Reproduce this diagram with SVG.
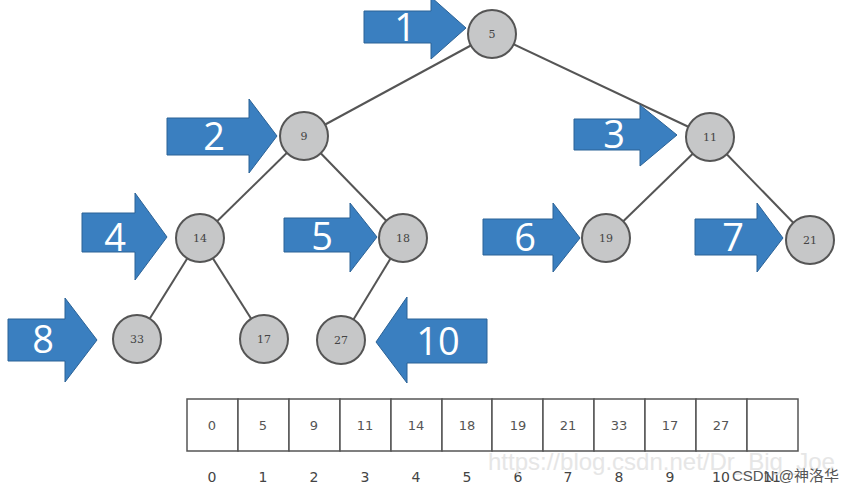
<svg xmlns="http://www.w3.org/2000/svg" width="847" height="492" viewBox="0 0 847 492">
<style>
.edge{stroke:#555;stroke-width:2;fill:none}
.node circle{fill:#c6c7c8;stroke:#555;stroke-width:2}
.node text{font-family:"DejaVu Serif",serif;font-size:11px;fill:#444;text-anchor:middle}
.arrow polygon{fill:#3a7fc0;stroke:#2b6296;stroke-width:1}
.arrow text{font-family:"Open Sans","Noto Sans",sans-serif;font-size:38px;fill:#fff;text-anchor:middle}
.cell{fill:#fff;stroke:#555;stroke-width:1.5}
.val{font-family:"DejaVu Sans",sans-serif;font-size:13px;fill:#555;text-anchor:middle}
.idx{font-family:"DejaVu Sans",sans-serif;font-size:14px;fill:#444;text-anchor:middle}
</style>
<rect width="847" height="492" fill="#fff"/>
<g id="connectors">
<line class="edge" x1="492" y1="34" x2="304" y2="136"/>
<line class="edge" x1="492" y1="34" x2="710" y2="137"/>
<line class="edge" x1="304" y1="136" x2="200" y2="238"/>
<line class="edge" x1="304" y1="136" x2="403" y2="238"/>
<line class="edge" x1="710" y1="137" x2="606" y2="238"/>
<line class="edge" x1="710" y1="137" x2="810" y2="240"/>
<line class="edge" x1="200" y1="238" x2="137" y2="339"/>
<line class="edge" x1="200" y1="238" x2="264" y2="339"/>
<line class="edge" x1="403" y1="238" x2="341" y2="340"/>
</g>
<g id="n5" class="node"><circle cx="492" cy="34" r="24"/><text x="492" y="38">5</text></g>
<g id="n9" class="node"><circle cx="304" cy="136" r="24"/><text x="304" y="140">9</text></g>
<g id="n11" class="node"><circle cx="710" cy="137" r="24"/><text x="710" y="141">11</text></g>
<g id="n14" class="node"><circle cx="200" cy="238" r="24"/><text x="200" y="242">14</text></g>
<g id="n18" class="node"><circle cx="403" cy="238" r="24"/><text x="403" y="242">18</text></g>
<g id="n19" class="node"><circle cx="606" cy="238" r="24"/><text x="606" y="242">19</text></g>
<g id="n21" class="node"><circle cx="810" cy="240" r="24"/><text x="810" y="244">21</text></g>
<g id="n33" class="node"><circle cx="137" cy="339" r="24"/><text x="137" y="343">33</text></g>
<g id="n17" class="node"><circle cx="264" cy="339" r="24"/><text x="264" y="343">17</text></g>
<g id="n27" class="node"><circle cx="341" cy="340" r="24"/><text x="341" y="344">27</text></g>

<g id="a1" class="arrow"><polygon points="364,11 431,11 431,-3 466,28 431,59 431,43 364,43"/><text x="405" y="41">1</text></g>
<g id="a2" class="arrow"><polygon points="167,118 249,118 249,99 277,136 249,173 249,155 167,155"/><text x="214" y="150">2</text></g>
<g id="a3" class="arrow"><polygon points="574,119 640,119 640,105 677,135 640,166 640,150 574,150"/><text x="614" y="148">3</text></g>
<g id="a4" class="arrow"><polygon points="82,213 135,213 135,193 167,237 135,280 135,252 82,252"/><text x="115" y="251">4</text></g>
<g id="a5" class="arrow"><polygon points="284,218 350,218 350,203 377,237 350,272 350,252 284,252"/><text x="322" y="250">5</text></g>
<g id="a6" class="arrow"><polygon points="483,219 553,219 553,203 580,238 553,272 553,255 483,255"/><text x="525" y="251">6</text></g>
<g id="a7" class="arrow"><polygon points="695,219 757,219 757,203 783,238 757,272 757,255 695,255"/><text x="733" y="251">7</text></g>
<g id="a8" class="arrow"><polygon points="8,319 65,319 65,298 97,340 65,382 65,361 8,361"/><text x="43" y="353">8</text></g>
<g id="a10" class="arrow"><polygon points="487,319 407,319 407,297 376,342 407,383 407,363 487,363"/><text x="438" y="355">10</text></g>

<g id="array">
<rect class="cell" x="187" y="399" width="51" height="52"/>
<rect class="cell" x="238" y="399" width="51" height="52"/>
<rect class="cell" x="289" y="399" width="51" height="52"/>
<rect class="cell" x="340" y="399" width="51" height="52"/>
<rect class="cell" x="391" y="399" width="51" height="52"/>
<rect class="cell" x="442" y="399" width="50" height="52"/>
<rect class="cell" x="492" y="399" width="51" height="52"/>
<rect class="cell" x="543" y="399" width="51" height="52"/>
<rect class="cell" x="594" y="399" width="51" height="52"/>
<rect class="cell" x="645" y="399" width="51" height="52"/>
<rect class="cell" x="696" y="399" width="51" height="52"/>
<rect class="cell" x="747" y="399" width="51" height="52"/>
<text class="val" x="212" y="430">0</text>
<text class="val" x="263" y="430">5</text>
<text class="val" x="314" y="430">9</text>
<text class="val" x="365" y="430">11</text>
<text class="val" x="416" y="430">14</text>
<text class="val" x="467" y="430">18</text>
<text class="val" x="518" y="430">19</text>
<text class="val" x="568" y="430">21</text>
<text class="val" x="619" y="430">33</text>
<text class="val" x="670" y="430">17</text>
<text class="val" x="721" y="430">27</text>
<text class="idx" x="212" y="482">0</text>
<text class="idx" x="263" y="482">1</text>
<text class="idx" x="314" y="482">2</text>
<text class="idx" x="365" y="482">3</text>
<text class="idx" x="416" y="482">4</text>
<text class="idx" x="467" y="482">5</text>
<text class="idx" x="518" y="482">6</text>
<text class="idx" x="568" y="482">7</text>
<text class="idx" x="619" y="482">8</text>
<text class="idx" x="670" y="482">9</text>
<text class="idx" x="721" y="482">10</text>
<text class="idx" x="772" y="482">11</text>
</g>
<text x="488" y="470" font-family="Liberation Sans,Arial,sans-serif" font-size="24" fill="#e2e2e2" opacity="0.85">https://blog.csdn.net/Dr_Big_Joe</text>
<text x="732" y="481" font-family="Liberation Sans,'Noto Sans CJK SC',sans-serif" font-size="15" fill="#555">CSDN @神洛华</text>
</svg>
